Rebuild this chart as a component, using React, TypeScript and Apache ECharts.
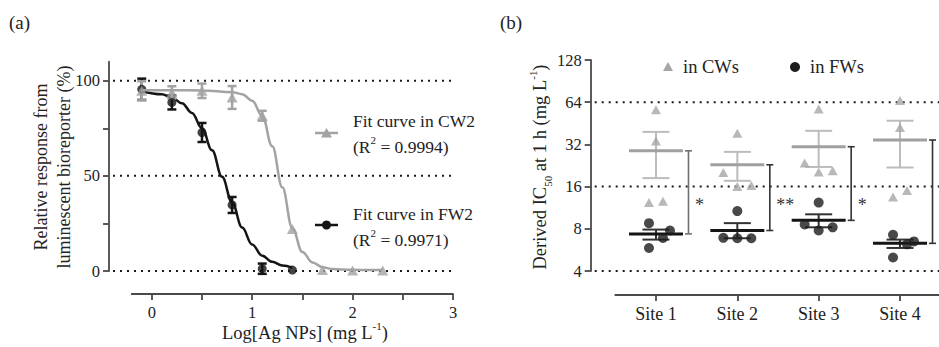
import React, { useEffect, useRef } from "react";
import * as echarts from "echarts";

const FONT = '"Liberation Serif", "Times New Roman", serif';
const TXT = "#222";
const AXIS = "#4a4a4a";
const GRAY = "#a3a3a3";
const BLACK = "#151515";

// ---------- Panel (a) data ----------
const logConc = [-0.1, 0.2, 0.5, 0.8, 1.1, 1.4, 1.7, 2.0, 2.3];
const cw2Mean = [94.7, 93.8, 94.7, 91.2, 81.6, 22.1, 0.5, 0.3, 0.3];
const cw2Sem = [5.0, 3.3, 3.8, 6.0, 2.6, 0, 0, 0, 0];
const fw2LogConc = [-0.1, 0.2, 0.5, 0.8, 1.1, 1.4];
const fw2Mean = [95.5, 88.6, 72.8, 34.7, 1.2, 0.5];
const fw2Sem = [5.6, 3.7, 5.0, 4.2, 2.7, 0];
const cw2FitX = [-0.1, 0.2, 0.5, 0.8, 0.9, 1.0, 1.1, 1.2, 1.3, 1.4, 1.5, 1.6, 1.7, 1.8, 2.0, 2.3];
const cw2FitY = [95, 95, 94.9, 94, 92.9, 89.5, 81.5, 65.5, 44, 22.5, 10, 4.5, 2, 1, 0.6, 0.5];
const fw2FitX = [-0.1, 0.1, 0.2, 0.3, 0.4, 0.5, 0.6, 0.7, 0.8, 0.9, 1.0, 1.1, 1.2, 1.3, 1.4];
const fw2FitY = [94.5, 92.9, 91.2, 88.2, 83.1, 75, 63.5, 49.5, 36, 22.8, 13.9, 8, 4.8, 2.9, 1.8];
const aYLabels = [0, 50, 100];
const aYTicks = [0, 25, 50, 75, 100];
const aGrid = [0, 50, 100];
const aXLabels = [0, 1, 2, 3];
const aXTicks = [0, 0.5, 1, 1.5, 2, 2.5, 3];

// ---------- Panel (b) data ----------
const sites = ["Site 1", "Site 2", "Site 3", "Site 4"];
const cwIC50 = [
  [56.6, 33.8, 12.3, 12.6],
  [38.4, 20.2, 16.0, 16.3],
  [57.3, 23.6, 20.3, 20.8],
  [65.8, 42.2, 13.5, 15.0],
];
const cwJitter = [
  [0, 0, -1, 1],
  [0, -2, 0, 2],
  [0, -2, 0, 2],
  [0, 0, -1, 1],
];
const fwIC50 = [
  [8.78, 7.78, 6.89, 5.84],
  [10.7, 6.9, 6.85, 6.85],
  [12.3, 8.6, 8.2, 7.78],
  [7.25, 6.5, 6.2, 4.99],
];
const fwJitter = [
  [-1, 2, 1, -1],
  [0, -2, 0, 2],
  [0, -2, 2, 0],
  [-1, 2, 1, -1],
];
const cwMean = [28.8, 22.9, 30.8, 34.4];
const cwSemLow = [18.4, 17.6, 22.1, 21.9];
const cwSemHigh = [39.3, 28.3, 40.0, 47.2];
const fwMean = [7.36, 7.78, 9.19, 6.3];
const fwSemLow = [6.7, 6.85, 8.2, 5.84];
const fwSemHigh = [7.9, 8.78, 10.15, 6.7];
const significance = ["*", "**", "*", ""];
const bGrid = [4, 16, 64];

// ---------- style constants ----------
const JITTER_STEP = 0.086;
const STAR_LEVEL = 12.4;
const bracketColors = ["#707070", "#333", "#333", "#333"];

function gridLines(xi: number, yi: number, values: number[]) {
  return {
    type: "custom",
    xAxisIndex: xi,
    yAxisIndex: yi,
    silent: true,
    z: 1,
    data: values.map((v) => [0, v]),
    renderItem: (params: any, api: any) => {
      const cs = params.coordSys;
      const y = api.coord([0, api.value(1)])[1];
      return {
        type: "line",
        shape: { x1: cs.x + 4, y1: y, x2: cs.x + cs.width, y2: y },
        style: { stroke: "#1a1a1a", lineWidth: 2, lineDash: [2, 5] },
      };
    },
  };
}

function errorBars(xs: number[], means: number[], sems: number[], color: string) {
  return {
    type: "custom",
    xAxisIndex: 1,
    yAxisIndex: 1,
    silent: true,
    z: 3,
    data: xs.map((x, i) => [x, means[i], sems[i]]),
    renderItem: (params: any, api: any) => {
      const x = api.value(0);
      const m = api.value(1);
      const s = api.value(2);
      if (!(s > 0)) return { type: "group", children: [] };
      const t = api.coord([x, m + s]);
      const b = api.coord([x, m - s]);
      const st = { stroke: color, lineWidth: 2.5 };
      const c = 4.5;
      return {
        type: "group",
        children: [
          { type: "line", shape: { x1: t[0], y1: t[1], x2: b[0], y2: b[1] }, style: st },
          { type: "line", shape: { x1: t[0] - c, y1: t[1], x2: t[0] + c, y2: t[1] }, style: st },
          { type: "line", shape: { x1: b[0] - c, y1: b[1], x2: b[0] + c, y2: b[1] }, style: st },
        ],
      };
    },
  };
}

function meanSem(means: number[], lows: number[], highs: number[], meanColor: string, semColor: string) {
  return {
    type: "custom",
    xAxisIndex: 3,
    yAxisIndex: 3,
    silent: true,
    z: 2,
    data: means.map((m, i) => [i + 1, m, lows[i], highs[i]]),
    renderItem: (params: any, api: any) => {
      const x = api.value(0);
      const c = api.coord([x, api.value(1)]);
      const lo = api.coord([x, api.value(2)]);
      const hi = api.coord([x, api.value(3)]);
      const sst = { stroke: semColor, lineWidth: 2 };
      return {
        type: "group",
        children: [
          { type: "line", shape: { x1: c[0], y1: lo[1], x2: c[0], y2: hi[1] }, style: sst },
          { type: "line", shape: { x1: c[0] - 13.5, y1: lo[1], x2: c[0] + 13.5, y2: lo[1] }, style: sst },
          { type: "line", shape: { x1: c[0] - 13.5, y1: hi[1], x2: c[0] + 13.5, y2: hi[1] }, style: sst },
          { type: "line", shape: { x1: c[0] - 27, y1: c[1], x2: c[0] + 27, y2: c[1] }, style: { stroke: meanColor, lineWidth: 3 } },
        ],
      };
    },
  };
}

function buildOption() {
  const axisLineStyle = { color: AXIS, width: 1.8 };
  const tickLabel = { fontFamily: FONT, fontSize: 16.5, color: TXT };
  const richN = (size: number) => ({ fontFamily: FONT, fontSize: size, fill: TXT, lineHeight: 26 });
  const richSup = (size: number) => ({ fontFamily: FONT, fontSize: size, fill: TXT, lineHeight: 12, verticalAlign: "top" });
  const richSub = (size: number) => ({ fontFamily: FONT, fontSize: size, fill: TXT, lineHeight: 12, verticalAlign: "bottom" });

  const cwPoints: number[][] = [];
  const fwPoints: number[][] = [];
  sites.forEach((_, i) => {
    cwIC50[i].forEach((v, j) => cwPoints.push([i + 1 + cwJitter[i][j] * JITTER_STEP, v]));
    fwIC50[i].forEach((v, j) => fwPoints.push([i + 1 + fwJitter[i][j] * JITTER_STEP, v]));
  });

  return {
    animation: false,
    backgroundColor: "#fff",
    textStyle: { fontFamily: FONT },
    grid: [
      { left: 109, top: 61.7, width: 344, height: 209.3, outerBoundsMode: "none" },
      { left: 131.7, top: 61.7, width: 321.3, height: 209.3, outerBoundsMode: "none" },
      { left: 590.7, top: 60, width: 348.3, height: 211, outerBoundsMode: "none" },
      { left: 615.3, top: 60, width: 325.4, height: 211, outerBoundsMode: "none" },
    ],
    xAxis: [
      { gridIndex: 0, type: "value", min: 0, max: 1, show: false },
      {
        gridIndex: 1,
        type: "value",
        min: -0.2,
        max: 3,
        offset: 23,
        axisLine: { show: true, onZero: false, lineStyle: axisLineStyle },
        axisTick: { show: true, length: 6, customValues: aXTicks, lineStyle: axisLineStyle },
        axisLabel: { customValues: aXLabels, margin: 10, ...tickLabel },
        splitLine: { show: false },
      },
      { gridIndex: 2, type: "value", min: 0, max: 1, show: false },
      {
        gridIndex: 3,
        type: "value",
        min: 0.5,
        max: 4.5,
        offset: 24,
        axisLine: { show: true, onZero: false, lineStyle: axisLineStyle },
        axisTick: { show: true, length: 6, customValues: [1, 2, 3, 4], lineStyle: axisLineStyle },
        axisLabel: {
          customValues: [1, 2, 3, 4],
          margin: 10,
          formatter: (v: number) => sites[Math.round(v) - 1] ?? "",
          fontFamily: FONT,
          fontSize: 18,
          color: TXT,
        },
        splitLine: { show: false },
      },
    ],
    yAxis: [
      {
        gridIndex: 0,
        type: "value",
        min: 0,
        max: 110,
        axisLine: { show: true, onZero: false, lineStyle: axisLineStyle },
        axisTick: { show: true, length: 6, customValues: aYTicks, lineStyle: axisLineStyle },
        axisLabel: { customValues: aYLabels, margin: 9, ...tickLabel },
        splitLine: { show: false },
      },
      { gridIndex: 1, type: "value", min: 0, max: 110, show: false },
      {
        gridIndex: 2,
        type: "log",
        logBase: 2,
        min: 4,
        max: 128,
        axisLine: { show: true, onZero: false, lineStyle: axisLineStyle },
        axisTick: { show: true, length: 6, lineStyle: axisLineStyle },
        axisLabel: { margin: 9, ...tickLabel },
        splitLine: { show: false },
        minorTick: { show: false },
      },
      { gridIndex: 3, type: "log", logBase: 2, min: 4, max: 128, show: false },
    ],
    series: [
      gridLines(0, 0, aGrid),
      gridLines(2, 2, bGrid),
      // panel (a)
      {
        type: "line",
        xAxisIndex: 1,
        yAxisIndex: 1,
        data: fw2FitX.map((x, i) => [x, fw2FitY[i]]),
        smooth: 0.4,
        smoothMonotone: "x",
        symbol: "none",
        lineStyle: { color: BLACK, width: 2.5 },
        z: 2,
      },
      errorBars(fw2LogConc, fw2Mean, fw2Sem, BLACK),
      {
        type: "scatter",
        xAxisIndex: 1,
        yAxisIndex: 1,
        data: fw2LogConc.map((x, i) => [x, fw2Mean[i]]),
        symbol: "circle",
        symbolSize: 9,
        itemStyle: { color: BLACK },
        z: 4,
      },
      {
        type: "line",
        xAxisIndex: 1,
        yAxisIndex: 1,
        data: cw2FitX.map((x, i) => [x, cw2FitY[i]]),
        smooth: 0.4,
        smoothMonotone: "x",
        symbol: "none",
        lineStyle: { color: GRAY, width: 2.5 },
        z: 5,
      },
      errorBars(logConc, cw2Mean, cw2Sem, GRAY),
      {
        type: "scatter",
        xAxisIndex: 1,
        yAxisIndex: 1,
        data: logConc.map((x, i) => [x, cw2Mean[i]]),
        symbol: "triangle",
        symbolSize: [11, 10],
        itemStyle: { color: GRAY },
        z: 6,
      },
      // panel (b)
      meanSem(cwMean, cwSemLow, cwSemHigh, "#a0a0a0", "#bcbcbc"),
      meanSem(fwMean, fwSemLow, fwSemHigh, BLACK, "#333"),
      {
        type: "custom",
        xAxisIndex: 3,
        yAxisIndex: 3,
        silent: true,
        z: 2,
        data: sites.map((_, i) => [i + 1, cwMean[i], fwMean[i]]),
        renderItem: (params: any, api: any) => {
          const i = params.dataIndex;
          const x = api.value(0);
          const a = api.coord([x, api.value(1)]);
          const b = api.coord([x, api.value(2)]);
          const s = api.coord([x, STAR_LEVEL]);
          const bx = a[0] + 32.5;
          const st = { stroke: bracketColors[i], lineWidth: 1.6 };
          return {
            type: "group",
            children: [
              { type: "line", shape: { x1: bx, y1: a[1], x2: bx, y2: b[1] }, style: st },
              { type: "line", shape: { x1: bx - 3.5, y1: a[1], x2: bx + 3.5, y2: a[1] }, style: st },
              { type: "line", shape: { x1: bx - 3.5, y1: b[1], x2: bx + 3.5, y2: b[1] }, style: st },
              {
                type: "text",
                x: bx + 6.5,
                y: s[1] + 3,
                style: {
                  text: significance[i],
                  fontFamily: FONT,
                  fontSize: 18,
                  fill: "#333",
                  align: "left",
                  verticalAlign: "middle",
                },
              },
            ],
          };
        },
      },
      {
        type: "scatter",
        name: "in CWs",
        xAxisIndex: 3,
        yAxisIndex: 3,
        data: cwPoints,
        symbol: "triangle",
        symbolSize: [10, 9],
        itemStyle: { color: "#a6a6a6" },
        z: 4,
      },
      {
        type: "scatter",
        name: "in FWs",
        xAxisIndex: 3,
        yAxisIndex: 3,
        data: fwPoints,
        symbol: "circle",
        symbolSize: 10,
        itemStyle: { color: "#1c1c1c" },
        z: 4,
      },
    ],
    graphic: [
      { type: "text", x: 9, y: 22, style: { text: "(a)", fontFamily: FONT, fontSize: 19, fill: TXT, align: "left", verticalAlign: "middle" } },
      { type: "text", x: 500, y: 22, style: { text: "(b)", fontFamily: FONT, fontSize: 19, fill: TXT, align: "left", verticalAlign: "middle" } },
      {
        type: "text",
        x: 41,
        y: 167,
        rotation: Math.PI / 2,
        style: { text: "Relative response from", fontFamily: FONT, fontSize: 18, fill: TXT, align: "center", verticalAlign: "middle" },
      },
      {
        type: "text",
        x: 64,
        y: 167,
        rotation: Math.PI / 2,
        style: { text: "luminescent bioreporter (%)", fontFamily: FONT, fontSize: 18, fill: TXT, align: "center", verticalAlign: "middle" },
      },
      {
        type: "text",
        x: 305,
        y: 333,
        style: {
          text: "{n|Log[Ag NPs] (mg L}{sup|-1}{n|)}",
          align: "center",
          verticalAlign: "middle",
          rich: { n: richN(18.5), sup: richSup(11) },
        },
      },
      {
        type: "text",
        x: 540,
        y: 167,
        rotation: Math.PI / 2,
        style: {
          text: "{n|Derived IC}{sub|50}{n| at 1 h (mg L}{sup|-1}{n|)}",
          align: "center",
          verticalAlign: "middle",
          rich: { n: richN(18.5), sup: richSup(11), sub: richSub(11) },
        },
      },
      // legend (a)
      { type: "line", shape: { x1: 315, y1: 133, x2: 338, y2: 133 }, style: { stroke: GRAY, lineWidth: 2.5 } },
      { type: "polygon", shape: { points: [[326.5, 128], [321, 137.5], [332, 137.5]] }, style: { fill: GRAY } },
      {
        type: "text",
        x: 353,
        y: 134,
        style: {
          text: "{n|Fit curve in CW2}\n{n|(R}{sup|2}{n| = 0.9994)}",
          align: "left",
          verticalAlign: "middle",
          rich: { n: richN(17.5), sup: richSup(11) },
        },
      },
      { type: "line", shape: { x1: 315, y1: 225, x2: 338, y2: 225 }, style: { stroke: BLACK, lineWidth: 2.5 } },
      { type: "circle", shape: { cx: 326.5, cy: 225, r: 4.5 }, style: { fill: BLACK } },
      {
        type: "text",
        x: 353,
        y: 227,
        style: {
          text: "{n|Fit curve in FW2}\n{n|(R}{sup|2}{n| = 0.9971)}",
          align: "left",
          verticalAlign: "middle",
          rich: { n: richN(17.5), sup: richSup(11) },
        },
      },
      // legend (b)
      { type: "polygon", shape: { points: [[668, 62], [663, 71], [673, 71]] }, style: { fill: "#a6a6a6" } },
      { type: "text", x: 683, y: 67, style: { text: "in CWs", fontFamily: FONT, fontSize: 18.5, fill: TXT, align: "left", verticalAlign: "middle" } },
      { type: "circle", shape: { cx: 795, cy: 67, r: 5 }, style: { fill: "#1c1c1c" } },
      { type: "text", x: 810, y: 67, style: { text: "in FWs", fontFamily: FONT, fontSize: 18.5, fill: TXT, align: "left", verticalAlign: "middle" } },
    ],
  };
}

export default function App() {
  const ref = useRef<HTMLDivElement>(null);
  useEffect(() => {
    if (!ref.current) return;
    const chart = echarts.init(ref.current, null, { renderer: "svg" });
    chart.setOption(buildOption() as any);
    return () => chart.dispose();
  }, []);
  return (
    <div
      ref={ref}
      style={{ position: "fixed", left: 0, top: 0, width: 939, height: 347, background: "#fff" }}
    />
  );
}
